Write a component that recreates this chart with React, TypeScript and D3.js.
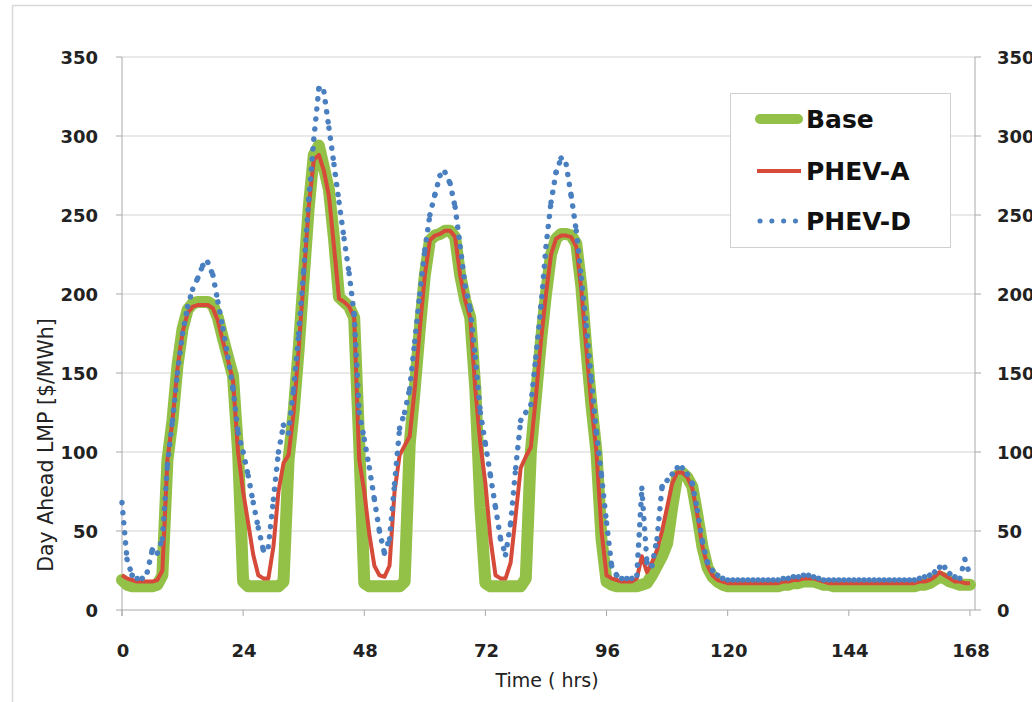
import React from "react";
import * as d3 from "d3";

// hourly day-ahead LMP, hour 0..168
const BASE = [
  19, 16, 15, 15, 15, 15, 15, 16, 22, 95, 120, 155,
  178, 190, 194, 195, 195, 195, 193, 185, 172, 160, 148, 100,
  18, 15, 15, 15, 15, 15, 15, 15, 18, 95, 125, 165,
  210, 255, 288, 294, 280, 266, 235, 198, 195, 192, 185, 105,
  17, 15, 15, 15, 15, 15, 15, 15, 18, 105, 140, 178,
  212, 234, 237, 238, 240, 240, 236, 212, 196, 185, 140, 65,
  17, 15, 15, 15, 15, 15, 15, 15, 20, 100, 135, 170,
  200, 225, 235, 238, 238, 237, 232, 205, 165, 130, 100, 45,
  18, 16, 15, 15, 15, 15, 15, 16, 17, 22, 28, 34,
  42, 65, 85, 87, 84, 78, 60, 40, 27, 21, 18, 16,
  15, 15, 15, 15, 15, 15, 15, 15, 15, 15, 15, 16,
  16, 17, 17, 18, 18, 18, 17, 16, 16, 15, 15, 15,
  15, 15, 15, 15, 15, 15, 15, 15, 15, 15, 15, 15,
  15, 15, 16, 16, 17, 19, 21, 20, 18, 17, 16, 16,
  16,
];

const PHEV_A = [
  22, 20, 19, 18, 18, 18, 18, 19, 25, 95, 120, 153,
  176, 188, 192, 193, 193, 193, 191, 183, 170, 158, 145, 100,
  75, 55, 35, 22, 20, 20, 40, 75, 93, 98, 125, 165,
  210, 255, 285, 288, 278, 262, 230, 197, 195, 192, 185, 95,
  75, 48, 28, 22, 21, 28, 75, 98, 104, 110, 140, 178,
  212, 234, 237, 238, 240, 240, 236, 212, 196, 185, 140, 105,
  80, 45, 22, 20, 20, 30, 60, 90, 97, 103, 135, 170,
  200, 225, 235, 237, 237, 236, 230, 203, 165, 130, 100, 50,
  22, 20, 19, 18, 18, 18, 20, 34, 24, 30, 38, 50,
  65, 80, 87, 87, 84, 77, 60, 40, 28, 22, 19, 18,
  17, 17, 17, 17, 17, 17, 17, 17, 17, 17, 17, 18,
  18, 19, 19, 20, 20, 20, 19, 18, 17, 17, 17, 17,
  17, 17, 17, 17, 17, 17, 17, 17, 17, 17, 17, 17,
  17, 17, 18, 18, 19, 21, 24, 22, 20, 18, 18, 17,
  17,
];

const PHEV_D = [
  68, 32, 22, 20, 20, 24, 38, 36, 45, 92, 120, 150,
  175, 192, 203, 210, 218, 220, 212, 195, 178, 160, 140, 112,
  100, 85, 68, 52, 38, 40, 70, 100, 117, 112, 140, 175,
  215, 260, 298, 330, 328, 305, 282, 258, 235, 213, 187, 125,
  108, 90, 70, 50, 36, 45, 80, 115, 125, 140, 170, 200,
  228, 250, 263, 275, 277, 270, 255, 230, 205, 190, 160, 125,
  105, 85, 65, 45, 35, 55, 90, 120, 125, 130, 160, 192,
  230, 258, 277, 286, 282, 262, 240, 210, 180, 145, 112, 85,
  55, 28, 22, 20, 20, 20, 22, 77, 30, 28, 45, 78,
  82, 86, 90, 90, 86, 80, 63, 43, 30, 25, 22, 20,
  19, 19, 19, 19, 19, 19, 19, 19, 19, 19, 19, 20,
  20, 21, 21, 22, 22, 21, 20, 19, 19, 19, 19, 19,
  19, 19, 19, 19, 19, 19, 19, 19, 19, 19, 19, 19,
  19, 19, 20, 21, 22, 24, 27, 27, 23, 21, 20, 32,
  22,
];

const X_TICKS = [0, 24, 48, 72, 96, 120, 144, 168];
const Y_TICKS = [0, 50, 100, 150, 200, 250, 300, 350];
const LEGEND = ["Base", "PHEV-A", "PHEV-D"];

const GREEN = "#93c047";
const RED = "#d64a3a";
const BLUE = "#4a7fc0";
const FONT = "'DejaVu Sans', sans-serif";

export default function App() {
  const x = d3.scaleLinear().domain([0, 169]).range([122, 975]);
  const y = d3.scaleLinear().domain([0, 350]).range([610, 57]);

  const line = d3
    .line<number>()
    .x((_, i) => x(i))
    .y((d) => y(d));

  // Excel restarts the dot pattern on every segment
  const dotSegments = PHEV_D.slice(1).map((v, i) => (
    <path
      key={i}
      d={`M${x(i)},${y(PHEV_D[i])}L${x(i + 1)},${y(v)}`}
      fill="none"
      stroke={BLUE}
      strokeWidth={5.5}
      strokeLinecap="round"
      strokeDasharray="0.1 10"
    />
  ));

  const legendY = [119, 171, 221];

  return (
    <svg
      width={1032}
      height={702}
      style={{ position: "absolute", left: 0, top: 0, background: "#fff" }}
    >
      <rect x={12.5} y={5.5} width={1040} height={720} fill="none" stroke="#d9d9d9" strokeWidth={1.5} />

      {Y_TICKS.slice(1).map((t) => (
        <line key={t} x1={122} x2={975} y1={y(t)} y2={y(t)} stroke="#d3d3d3" strokeWidth={1} />
      ))}

      {/* axes */}
      <line x1={122} x2={975} y1={y(0)} y2={y(0)} stroke="#a9a9a9" />
      <line x1={122} x2={122} y1={y(350)} y2={y(0) + 6} stroke="#a9a9a9" />
      <line x1={975} x2={975} y1={y(350)} y2={y(0)} stroke="#a9a9a9" />
      {Y_TICKS.map((t) => (
        <g key={t}>
          <line x1={116} x2={122} y1={y(t)} y2={y(t)} stroke="#a9a9a9" />
          <line x1={975} x2={981} y1={y(t)} y2={y(t)} stroke="#a9a9a9" />
          <text x={98} y={y(t) + 6.5} textAnchor="end" fontFamily={FONT} fontWeight="bold" fontSize={18} fill="#222">
            {t}
          </text>
          <text x={997} y={y(t) + 6.5} textAnchor="start" fontFamily={FONT} fontWeight="bold" fontSize={18} fill="#222">
            {t}
          </text>
        </g>
      ))}
      {X_TICKS.map((t) => (
        <g key={t}>
          <line x1={x(t)} x2={x(t)} y1={y(0)} y2={y(0) + 6} stroke="#a9a9a9" />
          <text x={x(t) + 1} y={657} textAnchor="middle" fontFamily={FONT} fontWeight="bold" fontSize={18} fill="#222">
            {t}
          </text>
        </g>
      ))}

      {/* series */}
      <path d={line(BASE) ?? ""} fill="none" stroke={GREEN} strokeWidth={12} strokeLinejoin="round" strokeLinecap="round" />
      <path d={line(PHEV_A) ?? ""} fill="none" stroke={RED} strokeWidth={4} strokeLinejoin="round" />
      {dotSegments}

      {/* legend */}
      <rect x={730.5} y={93.5} width={220} height={154} fill="#fff" stroke="#d0d0d0" />
      <line x1={760} x2={798} y1={legendY[0]} y2={legendY[0]} stroke={GREEN} strokeWidth={10} strokeLinecap="round" />
      <line x1={757} x2={801} y1={legendY[1]} y2={legendY[1]} stroke={RED} strokeWidth={4} />
      <line
        x1={760}
        x2={797}
        y1={legendY[2]}
        y2={legendY[2]}
        stroke={BLUE}
        strokeWidth={5}
        strokeLinecap="round"
        strokeDasharray="0.1 11.7"
      />
      {LEGEND.map((name, i) => (
        <text key={name} x={806} y={legendY[i] + 9} fontFamily={FONT} fontWeight="bold" fontSize={25} fill="#111">
          {name}
        </text>
      ))}

      {/* titles */}
      <text x={547} y={687} textAnchor="middle" fontFamily={FONT} fontSize={19} fill="#222">
        Time ( hrs)
      </text>
      <text
        transform="translate(53,445) rotate(-90)"
        textAnchor="middle"
        fontFamily={FONT}
        fontSize={20.5}
        fill="#222"
      >
        Day Ahead LMP [$/MWh]
      </text>
    </svg>
  );
}
